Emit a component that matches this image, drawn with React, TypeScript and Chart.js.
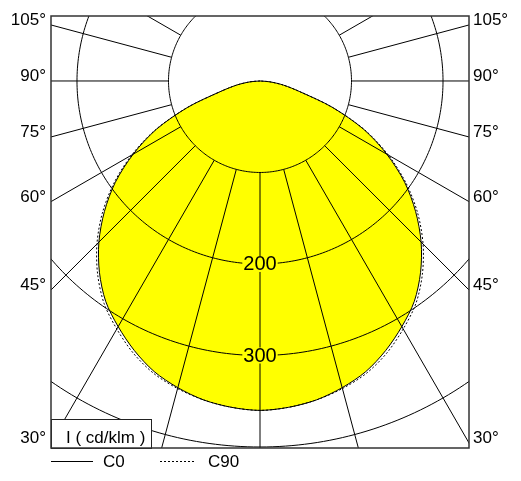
import React, { useEffect, useRef } from 'react';
import { Chart, registerables } from 'chart.js';

Chart.register(...registerables);

// ---- data ----
const ANGLES = [0, 5, 10, 15, 20, 25, 30, 35, 40, 45, 50, 55, 60, 65, 70, 75, 80, 85, 90];
const C0_VALUES = [360, 358, 354, 347, 338, 325, 310, 294, 273, 249, 222, 193, 160, 125, 84, 45, 26, 11, 0];
const C90_VALUES = [360, 358, 354, 348, 340, 328, 313, 297, 276, 252, 225, 195, 162, 126, 84, 45, 26, 11, 0];
const SERIES_NAMES = ['C0', 'C90'];
const GRID_RINGS = [100, 200, 300, 400];
const RING_LABELS = ['200', '300'];
const RING_LABEL_VALUES = [200, 300];
const SPOKE_ANGLES = [0, 15, 30, 45, 60, 75, 90, 105, 120, 135, 150, 165, 180];
const SIDE_TICK_ANGLES = [105, 90, 75, 60, 45, 30];
const SIDE_TICK_LABELS = ['105°', '90°', '75°', '60°', '45°', '30°'];
const UNIT_LABEL = 'I ( cd/klm )';

// axis ranges (cd/klm)
const X_HALF = 228.4;
const Y_MIN = -401.1;
const Y_MAX = 71;

const FONT = '"Liberation Sans", Arial, Helvetica, sans-serif';
const YELLOW = '#FFFF00';
const DEG = Math.PI / 180;

function curvePoints(values: number[]) {
  const pts: { x: number; y: number }[] = [];
  for (let i = ANGLES.length - 1; i >= 0; i--) {
    const a = ANGLES[i] * DEG;
    pts.push({ x: -values[i] * Math.sin(a), y: -values[i] * Math.cos(a) });
  }
  for (let i = 1; i < ANGLES.length; i++) {
    const a = ANGLES[i] * DEG;
    pts.push({ x: values[i] * Math.sin(a), y: -values[i] * Math.cos(a) });
  }
  return pts;
}

const sideTicks = SIDE_TICK_ANGLES.map((a) => ({ value: -X_HALF / Math.tan(a * DEG) }));

const polarPlugin = {
  id: 'polarDecor',
  afterDatasetDraw(chart: any, args: any) {
    if (args.index !== 0) return;
    const { ctx, chartArea } = chart;
    const xs = chart.scales.x;
    const ys = chart.scales.y;
    const P = (x: number, y: number) => [xs.getPixelForValue(x), ys.getPixelForValue(y)];
    ctx.save();
    ctx.beginPath();
    ctx.rect(chartArea.left, chartArea.top, chartArea.right - chartArea.left, chartArea.bottom - chartArea.top);
    ctx.clip();
    ctx.strokeStyle = '#000';
    ctx.lineWidth = 1;
    // rings
    for (const r of GRID_RINGS) {
      ctx.beginPath();
      for (let d = 0; d <= 360; d += 1) {
        const [X, Y] = P(r * Math.sin(d * DEG), -r * Math.cos(d * DEG));
        if (d === 0) ctx.moveTo(X, Y);
        else ctx.lineTo(X, Y);
      }
      ctx.closePath();
      ctx.stroke();
    }
    // spokes
    const inner = GRID_RINGS[0];
    for (const a of SPOKE_ANGLES) {
      const sides = a === 0 || a === 180 ? [1] : [-1, 1];
      for (const s of sides) {
        const sx = s * Math.sin(a * DEG);
        const sy = -Math.cos(a * DEG);
        const [x1, y1] = P(inner * sx, inner * sy);
        const [x2, y2] = P(800 * sx, 800 * sy);
        ctx.beginPath();
        ctx.moveTo(x1, y1);
        ctx.lineTo(x2, y2);
        ctx.stroke();
      }
    }
    // ring labels
    ctx.font = `20px ${FONT}`;
    ctx.textAlign = 'center';
    ctx.textBaseline = 'middle';
    RING_LABEL_VALUES.forEach((v, i) => {
      const [X, Y] = P(0, -v);
      const w = ctx.measureText(RING_LABELS[i]).width;
      ctx.fillStyle = YELLOW;
      ctx.fillRect(X - w / 2 - 1, Y - 8, w + 2, 16);
      ctx.fillStyle = '#000';
      ctx.fillText(RING_LABELS[i], X, Y + 1);
    });
    ctx.restore();
  },
  afterDraw(chart: any) {
    const { ctx, chartArea } = chart;
    const { left, right, top, bottom } = chartArea;
    ctx.save();
    // unit box
    ctx.fillStyle = '#fff';
    ctx.fillRect(left, bottom - 29, 100, 29);
    ctx.strokeStyle = '#222';
    ctx.lineWidth = 1;
    ctx.strokeRect(left + 0.5, bottom - 28.5, 100, 29);
    ctx.fillStyle = '#000';
    ctx.font = `17px ${FONT}`;
    ctx.textAlign = 'left';
    ctx.textBaseline = 'alphabetic';
    ctx.fillText(UNIT_LABEL, left + 15, bottom - 5);
    // frame
    ctx.strokeStyle = '#333';
    ctx.lineWidth = 1.5;
    ctx.strokeRect(left, top, right - left, bottom - top);
    // legend
    const ly = bottom + 13.5;
    ctx.strokeStyle = '#000';
    ctx.lineWidth = 1;
    ctx.beginPath();
    ctx.moveTo(left, ly);
    ctx.lineTo(left + 42, ly);
    ctx.stroke();
    ctx.setLineDash([2, 2]);
    ctx.beginPath();
    ctx.moveTo(left + 109, ly);
    ctx.lineTo(left + 145, ly);
    ctx.stroke();
    ctx.setLineDash([]);
    ctx.textBaseline = 'middle';
    ctx.fillText(SERIES_NAMES[0], left + 52, ly + 1);
    ctx.fillText(SERIES_NAMES[1], left + 157, ly + 1);
    ctx.restore();
  },
};

export default function App() {
  const ref = useRef<HTMLCanvasElement | null>(null);
  useEffect(() => {
    if (!ref.current) return;
    const tickFont = { family: FONT, size: 17 };
    const chart = new Chart(ref.current, {
      type: 'scatter',
      data: {
        datasets: [
          {
            label: 'fill',
            data: curvePoints(C0_VALUES),
            showLine: true,
            fill: 'shape',
            backgroundColor: YELLOW,
            borderWidth: 0,
            borderColor: 'rgba(0,0,0,0)',
            pointRadius: 0,
            tension: 0.3,
            order: 10,
          } as any,
          {
            label: SERIES_NAMES[0],
            data: curvePoints(C0_VALUES),
            showLine: true,
            fill: false,
            borderColor: '#000',
            borderWidth: 1,
            pointRadius: 0,
            tension: 0.3,
            order: 1,
          } as any,
          {
            label: SERIES_NAMES[1],
            data: curvePoints(C90_VALUES),
            showLine: true,
            fill: false,
            borderColor: '#000',
            borderWidth: 1,
            borderDash: [2, 2],
            pointRadius: 0,
            tension: 0.3,
            order: 0,
          } as any,
        ],
      },
      options: {
        animation: false,
        responsive: false,
        devicePixelRatio: 1,
        layout: { padding: { top: 16, bottom: 33, left: 0, right: 0 } },
        plugins: { legend: { display: false }, tooltip: { enabled: false } },
        events: [],
        scales: {
          x: { type: 'linear', min: -X_HALF, max: X_HALF, display: false },
          y: {
            type: 'linear',
            position: 'left',
            min: Y_MIN,
            max: Y_MAX,
            grid: { display: false, drawTicks: false },
            border: { display: false },
            afterBuildTicks: (s: any) => { s.ticks = sideTicks.map((t) => ({ ...t })); },
            afterFit: (s: any) => { s.width = 51; },
            ticks: {
              autoSkip: false,
              padding: 5,
              labelOffset: -4.5,
              color: '#000',
              font: tickFont,
              callback: (_v: any, i: number) => SIDE_TICK_LABELS[i],
            },
          },
          y2: {
            type: 'linear',
            position: 'right',
            min: Y_MIN,
            max: Y_MAX,
            grid: { display: false, drawTicks: false },
            border: { display: false },
            afterBuildTicks: (s: any) => { s.ticks = sideTicks.map((t) => ({ ...t })); },
            afterFit: (s: any) => { s.width = 52; },
            ticks: {
              autoSkip: false,
              padding: 4,
              labelOffset: -4.5,
              color: '#000',
              font: tickFont,
              callback: (_v: any, i: number) => SIDE_TICK_LABELS[i],
            },
          },
        },
      } as any,
      plugins: [polarPlugin],
    });
    return () => chart.destroy();
  }, []);
  return (
    <div style={{ position: 'absolute', left: 0, top: 0, width: 521, height: 481, background: '#fff' }}>
      <canvas ref={ref} width={521} height={481} />
    </div>
  );
}
